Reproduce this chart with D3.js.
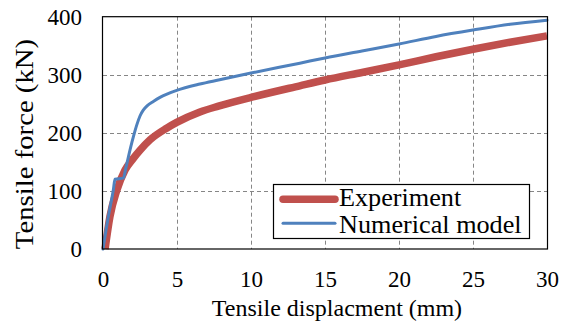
<!DOCTYPE html>
<html>
<head>
<meta charset="utf-8">
<script src="https://cdn.jsdelivr.net/npm/d3@7"></script>
<style>
  html, body { margin: 0; padding: 0; background: #fff; }
  svg { display: block; }
  #chart text { font-family: 'Liberation Serif' !important; }
</style>
</head>
<body>
<svg id="chart" width="566" height="329" font-family="Liberation Serif"></svg>
<script>
// ---- data ----
const xTicks = [0, 5, 10, 15, 20, 25, 30];
const yTicks = [0, 100, 200, 300, 400];
const seriesNames = ["Experiment", "Numerical model"];

const expDisp  = [0.14, 0.47, 0.92, 1.49, 2.05, 2.5, 3.18, 4.3, 4.98, 6.55, 7.8, 10, 13.3, 15, 17.5, 20, 22.5, 25, 27.5, 30];
const expForce = [0, 56, 100, 136, 156, 170, 188, 208, 218, 236, 246, 261, 281, 291, 304, 317, 331, 344, 356, 367];

const numDisp  = [0, 0.36, 0.7, 0.81, 1.37, 1.55, 1.71, 2.05, 2.3, 2.5, 2.72, 3.0, 3.4, 3.85, 4.98, 6.55, 7.8, 10, 13.3, 15, 17.5, 20, 22.5, 25, 27.5, 30];
const numForce = [0, 56, 102, 120, 122, 140, 158, 193, 215, 229, 239, 247, 254, 261, 273, 284, 291, 303, 320, 329, 341, 353, 366, 377, 387, 394];

const xTitle = "Tensile displacment (mm)";
const yTitle = "Tensile force (kN)";

// ---- layout ----
const FONT = "Liberation Serif";
const svg = d3.select("#chart");
const L = 103, R = 547, T = 16.7, B = 249;
const x = d3.scaleLinear().domain([0, 30]).range([L, R]);
const y = d3.scaleLinear().domain([0, 400]).range([B, T]);

// gridlines
const grid = svg.append("g");
grid.selectAll("line.v").data(xTicks.filter(d => d > 0 && d < 30)).join("line")
  .attr("x1", d => Math.round(x(d)) + 0.5).attr("x2", d => Math.round(x(d)) + 0.5)
  .attr("y1", T).attr("y2", B)
  .attr("stroke", "#868686").attr("stroke-width", 1).attr("stroke-dasharray", "4,3");
grid.selectAll("line.h").data(yTicks.filter(d => d > 0 && d < 400)).join("line")
  .attr("y1", d => Math.round(y(d)) + 0.5).attr("y2", d => Math.round(y(d)) + 0.5)
  .attr("x1", L).attr("x2", R)
  .attr("stroke", "#868686").attr("stroke-width", 1).attr("stroke-dasharray", "4,3");

// axes (labels only)
const xAxis = svg.append("g").attr("transform", `translate(0,${B})`)
  .call(d3.axisBottom(x).tickValues(xTicks).tickSize(0).tickPadding(0).tickFormat(d3.format("d")));
xAxis.attr("font-family", FONT).attr("font-size", 23);
xAxis.select(".domain").remove();
xAxis.selectAll("text").attr("dy", null).attr("y", 37.5).attr("fill", "#000");

const yAxis = svg.append("g").attr("transform", `translate(${L},0)`)
  .call(d3.axisLeft(y).tickValues(yTicks).tickSize(0).tickPadding(0).tickFormat(d3.format("d")));
yAxis.attr("font-family", FONT).attr("font-size", 23);
yAxis.select(".domain").remove();
yAxis.selectAll("text").attr("dy", "0.34em").attr("x", -21).attr("fill", "#000");

// series lines
const line = d3.line().x(d => x(d[0])).y(d => y(d[1])).curve(d3.curveMonotoneX);
const expData = expDisp.map((d, i) => [d, expForce[i]]);
const numData = numDisp.map((d, i) => [d, numForce[i]]);

svg.append("path").datum(expData).attr("d", line)
  .attr("fill", "none").attr("stroke", "#C0504D").attr("stroke-width", 7.5)
  .attr("stroke-linejoin", "round");
svg.append("path").datum(numData).attr("d", line)
  .attr("fill", "none").attr("stroke", "#4F81BD").attr("stroke-width", 3)
  .attr("stroke-linejoin", "round").attr("stroke-linecap", "round");

// plot border
svg.append("rect").attr("x", L - 0.5).attr("y", T).attr("width", R - L + 1).attr("height", B - T)
  .attr("fill", "none").attr("stroke", "#000").attr("stroke-width", 1.2);

// legend
const lg = svg.append("g");
lg.append("rect").attr("x", 273.5).attr("y", 184.5).attr("width", 256).attr("height", 54)
  .attr("fill", "#fff").attr("stroke", "#000").attr("stroke-width", 1.2);
const legendItems = [
  { name: seriesNames[0], color: "#C0504D", w: 7.5, ly: 199.3, ty: 206, sx: 1.07 },
  { name: seriesNames[1], color: "#4F81BD", w: 3, ly: 223.3, ty: 233.3, sx: 1.07 }
];
legendItems.forEach(it => {
  lg.append("line").attr("x1", 283).attr("x2", 335).attr("y1", it.ly).attr("y2", it.ly)
    .attr("stroke", it.color).attr("stroke-width", it.w).attr("stroke-linecap", "round");
  lg.append("text").attr("transform", `translate(339,${it.ty}) scale(${it.sx},1)`).text(it.name)
    .attr("fill", "#000").attr("font-size", 24.5);
});

// axis titles
svg.append("text").attr("x", 337).attr("y", 316).attr("text-anchor", "middle")
  .attr("fill", "#000").attr("font-size", 24)
  .text(xTitle);
svg.append("text").attr("transform", "translate(32.5,144) rotate(-90) scale(1.15,1)").attr("text-anchor", "middle")
  .attr("fill", "#000").attr("font-size", 25)
  .text(yTitle);

// force the serif face with the highest-precedence declaration
svg.selectAll("text").style("font-family", FONT, "important");
</script>
</body>
</html>
